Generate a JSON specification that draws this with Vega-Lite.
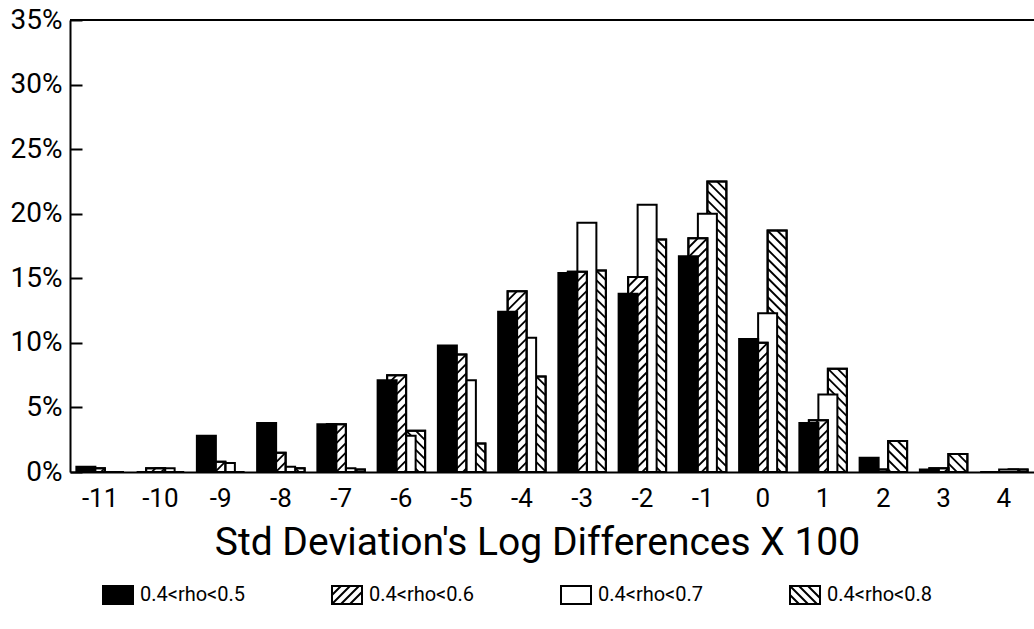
{
  "$schema": "https://vega.github.io/schema/vega-lite/v6.json",
  "autosize": {"type": "none"},
  "width": 964,
  "height": 452,
  "padding": {"left": 70, "top": 20, "right": 0, "bottom": 157},
  "background": "white",
  "config": {
    "view": {"stroke": null},
    "font": "Roboto",
    "axis": {"labelFont": "Roboto", "titleFont": "Roboto", "labelColor": "black", "titleColor": "black", "domainColor": "black", "tickColor": "black", "domainWidth": 2, "tickWidth": 2, "grid": false},
    "legend": {"labelFont": "Roboto", "labelColor": "black"}
  },
  "data": {
    "values": [
      {"d": -11, "s": "0.4<rho<0.5", "v": 0.4}, {"d": -11, "s": "0.4<rho<0.6", "v": 0.3}, {"d": -11, "s": "0.4<rho<0.7", "v": 0}, {"d": -11, "s": "0.4<rho<0.8", "v": 0},
      {"d": -10, "s": "0.4<rho<0.5", "v": 0}, {"d": -10, "s": "0.4<rho<0.6", "v": 0.3}, {"d": -10, "s": "0.4<rho<0.7", "v": 0.3}, {"d": -10, "s": "0.4<rho<0.8", "v": 0},
      {"d": -9, "s": "0.4<rho<0.5", "v": 2.8}, {"d": -9, "s": "0.4<rho<0.6", "v": 0.8}, {"d": -9, "s": "0.4<rho<0.7", "v": 0.7}, {"d": -9, "s": "0.4<rho<0.8", "v": 0},
      {"d": -8, "s": "0.4<rho<0.5", "v": 3.8}, {"d": -8, "s": "0.4<rho<0.6", "v": 1.5}, {"d": -8, "s": "0.4<rho<0.7", "v": 0.4}, {"d": -8, "s": "0.4<rho<0.8", "v": 0.3},
      {"d": -7, "s": "0.4<rho<0.5", "v": 3.7}, {"d": -7, "s": "0.4<rho<0.6", "v": 3.7}, {"d": -7, "s": "0.4<rho<0.7", "v": 0.3}, {"d": -7, "s": "0.4<rho<0.8", "v": 0.2},
      {"d": -6, "s": "0.4<rho<0.5", "v": 7.1}, {"d": -6, "s": "0.4<rho<0.6", "v": 7.5}, {"d": -6, "s": "0.4<rho<0.7", "v": 2.8}, {"d": -6, "s": "0.4<rho<0.8", "v": 3.2},
      {"d": -5, "s": "0.4<rho<0.5", "v": 9.8}, {"d": -5, "s": "0.4<rho<0.6", "v": 9.1}, {"d": -5, "s": "0.4<rho<0.7", "v": 7.1}, {"d": -5, "s": "0.4<rho<0.8", "v": 2.2},
      {"d": -4, "s": "0.4<rho<0.5", "v": 12.4}, {"d": -4, "s": "0.4<rho<0.6", "v": 14.0}, {"d": -4, "s": "0.4<rho<0.7", "v": 10.4}, {"d": -4, "s": "0.4<rho<0.8", "v": 7.4},
      {"d": -3, "s": "0.4<rho<0.5", "v": 15.4}, {"d": -3, "s": "0.4<rho<0.6", "v": 15.5}, {"d": -3, "s": "0.4<rho<0.7", "v": 19.3}, {"d": -3, "s": "0.4<rho<0.8", "v": 15.6},
      {"d": -2, "s": "0.4<rho<0.5", "v": 13.8}, {"d": -2, "s": "0.4<rho<0.6", "v": 15.1}, {"d": -2, "s": "0.4<rho<0.7", "v": 20.7}, {"d": -2, "s": "0.4<rho<0.8", "v": 18.0},
      {"d": -1, "s": "0.4<rho<0.5", "v": 16.7}, {"d": -1, "s": "0.4<rho<0.6", "v": 18.1}, {"d": -1, "s": "0.4<rho<0.7", "v": 20.0}, {"d": -1, "s": "0.4<rho<0.8", "v": 22.5},
      {"d": 0, "s": "0.4<rho<0.5", "v": 10.3}, {"d": 0, "s": "0.4<rho<0.6", "v": 10.0}, {"d": 0, "s": "0.4<rho<0.7", "v": 12.3}, {"d": 0, "s": "0.4<rho<0.8", "v": 18.7},
      {"d": 1, "s": "0.4<rho<0.5", "v": 3.8}, {"d": 1, "s": "0.4<rho<0.6", "v": 4.0}, {"d": 1, "s": "0.4<rho<0.7", "v": 6.0}, {"d": 1, "s": "0.4<rho<0.8", "v": 8.0},
      {"d": 2, "s": "0.4<rho<0.5", "v": 1.1}, {"d": 2, "s": "0.4<rho<0.6", "v": 0.2}, {"d": 2, "s": "0.4<rho<0.7", "v": 0}, {"d": 2, "s": "0.4<rho<0.8", "v": 2.4},
      {"d": 3, "s": "0.4<rho<0.5", "v": 0.2}, {"d": 3, "s": "0.4<rho<0.6", "v": 0.3}, {"d": 3, "s": "0.4<rho<0.7", "v": 0}, {"d": 3, "s": "0.4<rho<0.8", "v": 1.4},
      {"d": 4, "s": "0.4<rho<0.5", "v": 0}, {"d": 4, "s": "0.4<rho<0.6", "v": 0}, {"d": 4, "s": "0.4<rho<0.7", "v": 0.2}, {"d": 4, "s": "0.4<rho<0.8", "v": 0.2}
    ]
  },
  "encoding": {
    "x": {
      "field": "d", "type": "ordinal",
      "scale": {"paddingInner": 0, "paddingOuter": 0},
      "axis": {"title": "Std Deviation's Log Differences X 100", "labelAngle": 0, "labelFontSize": 26, "labelPadding": 13, "ticks": false, "titleFontSize": 39, "titleFontWeight": "normal", "titlePadding": 12, "titleX": 467}
    },
    "y": {
      "field": "v", "type": "quantitative",
      "scale": {"domain": [0, 35], "nice": false},
      "axis": {"title": null, "values": [0, 5, 10, 15, 20, 25, 30, 35], "labelExpr": "datum.value + '%'", "labelFontSize": 28, "tickSize": -12, "labelPadding": 20}
    }
  },
  "layer": [
    {
      "transform": [{"filter": {"field": "s", "equal": "0.4<rho<0.8"}}],
      "mark": {"type": "bar", "width": 19, "xOffset": 14.25, "fill": "white", "stroke": "black", "strokeWidth": 2}
    },
    {
      "transform": [{"filter": {"field": "s", "equal": "0.4<rho<0.8"}}],
      "mark": {"type": "point", "clip": true, "xOffset": 14.25, "size": 361, "filled": false, "opacity": 1, "stroke": "black", "strokeWidth": 1.8,
        "shape": "M0,0L1,1M-1,0L1,2M-1,1L1,3M-1,2L1,4M-1,3L1,5M-1,4L1,6M-1,5L1,7M-1,6L1,8M-1,7L1,9M-1,8L1,10M-1,9L1,11M-1,10L1,12M-1,11L1,13M-1,12L1,14M-1,13L1,15M-1,14L1,16M-1,15L1,17M-1,16L1,18M-1,17L1,19M-1,18L1,20M-1,19L1,21M-1,20L1,22M-1,21L1,23M-1,22L1,24M-1,23L1,25M-1,24L1,26M-1,25L1,27M-1,26L1,28M-1,27L1,29M-1,28L1,30M-1,29L1,31M-1,30L1,32M-1,31L1,33M-1,32L1,34"}
    },
    {
      "transform": [{"filter": {"field": "s", "equal": "0.4<rho<0.8"}}],
      "mark": {"type": "bar", "width": 19, "xOffset": 14.25, "fillOpacity": 0, "stroke": "black", "strokeWidth": 2}
    },
    {
      "transform": [{"filter": {"field": "s", "equal": "0.4<rho<0.7"}}],
      "mark": {"type": "bar", "width": 19, "xOffset": 4.75, "fill": "white", "stroke": "black", "strokeWidth": 2}
    },
    {
      "transform": [{"filter": {"field": "s", "equal": "0.4<rho<0.6"}}],
      "mark": {"type": "bar", "width": 19, "xOffset": -4.75, "fill": "white", "stroke": "black", "strokeWidth": 2}
    },
    {
      "transform": [{"filter": {"field": "s", "equal": "0.4<rho<0.6"}}],
      "mark": {"type": "point", "clip": true, "xOffset": -4.75, "size": 361, "filled": false, "opacity": 1, "stroke": "black", "strokeWidth": 1.8,
        "shape": "M-1,1L0,0M-1,2L1,0M-1,3L1,1M-1,4L1,2M-1,5L1,3M-1,6L1,4M-1,7L1,5M-1,8L1,6M-1,9L1,7M-1,10L1,8M-1,11L1,9M-1,12L1,10M-1,13L1,11M-1,14L1,12M-1,15L1,13M-1,16L1,14M-1,17L1,15M-1,18L1,16M-1,19L1,17M-1,20L1,18M-1,21L1,19M-1,22L1,20M-1,23L1,21M-1,24L1,22M-1,25L1,23M-1,26L1,24M-1,27L1,25M-1,28L1,26M-1,29L1,27M-1,30L1,28M-1,31L1,29M-1,32L1,30M-1,33L1,31M-1,34L1,32"}
    },
    {
      "transform": [{"filter": {"field": "s", "equal": "0.4<rho<0.6"}}],
      "mark": {"type": "bar", "width": 19, "xOffset": -4.75, "fillOpacity": 0, "stroke": "black", "strokeWidth": 2}
    },
    {
      "transform": [{"filter": {"field": "s", "equal": "0.4<rho<0.5"}}],
      "mark": {"type": "bar", "width": 19, "xOffset": -14.25, "fill": "black", "stroke": "black", "strokeWidth": 2}
    },
    {
      "mark": {"type": "rule", "color": "black", "strokeWidth": 2},
      "encoding": {"x": null, "y": {"datum": 35}}
    },
    {
      "mark": {"type": "point", "filled": true, "opacity": 0},
      "encoding": {
        "fill": {
          "field": "s", "type": "nominal",
          "scale": {"domain": ["0.4<rho<0.5", "0.4<rho<0.6", "0.4<rho<0.7", "0.4<rho<0.8"], "range": ["black", "white", "white", "white"]},
          "legend": {"title": null, "orient": "none", "legendX": 32, "legendY": 559, "direction": "horizontal", "columns": 4, "gridAlign": "all", "columnPadding": 82, "labelFontSize": 20, "labelOffset": 6, "symbolSize": 900, "symbolStrokeColor": "black", "symbolStrokeWidth": 2, "symbolOpacity": 1, "padding": 0,
            "encode": {"symbols": {"update": {"opacity": {"value": 1}, "stroke": {"value": "black"}}}}}
        },
        "shape": {
          "field": "s", "type": "nominal",
          "scale": {"domain": ["0.4<rho<0.5", "0.4<rho<0.6", "0.4<rho<0.7", "0.4<rho<0.8"],
            "range": [
              "M-1,-0.6H1V0.6H-1Z",
              "M-1,-0.6H1V0.6H-1Z M-1,0L-0.4,-0.6 M-1,0.6L0.2,-0.6 M-0.4,0.6L0.8,-0.6 M0.2,0.6L1,-0.2",
              "M-1,-0.6H1V0.6H-1Z",
              "M-1,-0.6H1V0.6H-1Z M-1,0L-0.4,0.6 M-1,-0.6L0.2,0.6 M-0.4,-0.6L0.8,0.6 M0.2,-0.6L1,0.2"
            ]},
          "legend": {"title": null, "orient": "none", "legendX": 32, "legendY": 559, "direction": "horizontal", "columns": 4, "gridAlign": "all", "columnPadding": 82, "labelFontSize": 20, "labelOffset": 6, "symbolSize": 900, "symbolStrokeColor": "black", "symbolStrokeWidth": 2, "symbolOpacity": 1, "padding": 0,
            "encode": {"symbols": {"update": {"opacity": {"value": 1}, "stroke": {"value": "black"}}}}}
        }
      }
    }
  ]
}
